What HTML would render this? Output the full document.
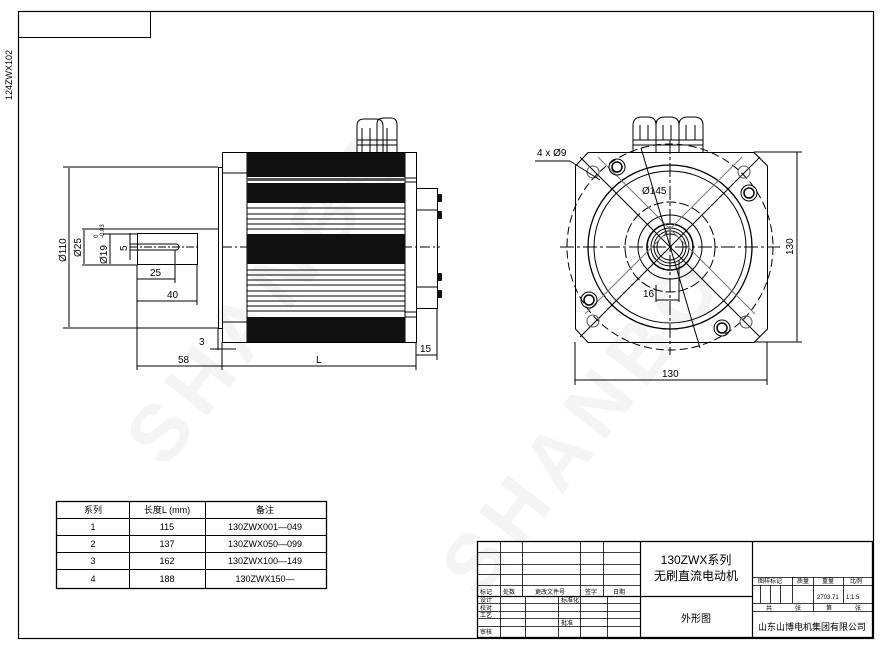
<!DOCTYPE html>
<html><head><meta charset="utf-8"><style>
body{margin:0;background:#fff}
svg{display:block}
text{font-family:"Liberation Sans","Noto Sans CJK SC",sans-serif;fill:#000}
</style></head><body>
<svg width="881" height="645" viewBox="0 0 881 645" xmlns="http://www.w3.org/2000/svg">
<g fill="none" stroke="#000" stroke-width="1">
<rect x="18.5" y="11.5" width="855" height="627" stroke-width="1.2"/>
<rect x="18.5" y="11.5" width="132" height="26"/>
</g>
<text x="12" y="100" font-size="9" transform="rotate(-90 12 100)" fill="#333">124ZWX102</text>

<g font-size="80" font-weight="bold" font-family="Liberation Sans">
<text x="0" y="0" transform="translate(165,470) rotate(-52)" style="fill:#f4f4f4" letter-spacing="10">SHANBO</text>
<text x="0" y="0" transform="translate(480,600) rotate(-52)" style="fill:#f4f4f4" letter-spacing="10">SHANBO</text>
</g>

<!-- LEFT VIEW -->
<g stroke="#000" stroke-width="1" fill="none">
<path d="M357 152 V126 Q357 119 364 119 H376 Q383 119 383 126 V152"/>
<path d="M377 152 V124 Q377 118 384 118 H391 Q397 118 397 125 V152"/>
<line x1="357" y1="140" x2="397" y2="140"/><line x1="357" y1="145" x2="397" y2="145"/>
<line x1="362" y1="128" x2="362" y2="152"/><line x1="370" y1="128" x2="370" y2="152"/><line x1="387" y1="128" x2="387" y2="152"/>
<rect x="222.5" y="152.5" width="194" height="190"/>
<line x1="247" y1="152" x2="247" y2="342"/>
<line x1="405" y1="152" x2="405" y2="342"/>
<line x1="222" y1="173" x2="247" y2="173"/><line x1="222" y1="322" x2="247" y2="322"/>
<line x1="405" y1="178" x2="416" y2="178"/><line x1="405" y1="182" x2="416" y2="182"/>
<line x1="405" y1="312" x2="416" y2="312"/><line x1="405" y1="317" x2="416" y2="317"/>
<rect x="416.5" y="188.5" width="21" height="120"/>
<line x1="416" y1="210" x2="437" y2="210"/><line x1="416" y1="287" x2="437" y2="287"/>
<rect x="218.5" y="167.5" width="4" height="161"/>
<rect x="137.5" y="233.5" width="60" height="31"/>
<line x1="82" y1="229" x2="218" y2="229"/>
<line x1="82" y1="265" x2="137" y2="265"/>
<path d="M130 244 H176 A3 3 0 0 1 176 250 H130"/>
<line x1="130" y1="247" x2="200" y2="247" stroke-dasharray="8 2 2 2"/>
<line x1="222" y1="247" x2="440" y2="247" stroke-dasharray="10 3 2 3"/>
<line x1="63" y1="167" x2="218" y2="167"/><line x1="63" y1="328" x2="218" y2="328"/>
<line x1="69" y1="168" x2="69" y2="327"/>
<line x1="84" y1="230" x2="84" y2="264"/>
<line x1="110" y1="234" x2="110" y2="264"/><line x1="103" y1="234" x2="137" y2="234"/>
<line x1="130" y1="233" x2="130" y2="260"/>
<line x1="137" y1="265" x2="137" y2="370"/>
<line x1="175" y1="250" x2="175" y2="283"/>
<line x1="197" y1="265" x2="197" y2="305"/>
<line x1="137" y1="279" x2="175" y2="279"/>
<line x1="137" y1="301" x2="197" y2="301"/>
<line x1="137" y1="366" x2="222" y2="366"/>
<line x1="222" y1="342" x2="222" y2="370"/>
<line x1="218" y1="328" x2="218" y2="350"/>
<line x1="210" y1="349" x2="236" y2="349"/>
<line x1="222" y1="366" x2="416" y2="366"/>
<line x1="416" y1="342" x2="416" y2="370"/>
<line x1="437" y1="308" x2="437" y2="360"/>
<line x1="416" y1="355" x2="437" y2="355"/>
</g>
<g fill="#111">
<rect x="247" y="153" width="158" height="24"/>
<rect x="247" y="183" width="158" height="20"/>
<rect x="247" y="234" width="158" height="30"/>
<rect x="247" y="317" width="158" height="25"/>
<rect x="247" y="178" width="158" height="3" fill="#555"/>
</g>
<g stroke="#000" stroke-width="1">
<line x1="247" y1="208" x2="405" y2="208"/><line x1="247" y1="214" x2="405" y2="214"/>
<line x1="247" y1="219" x2="405" y2="219"/><line x1="247" y1="224" x2="405" y2="224"/><line x1="247" y1="229" x2="405" y2="229"/>
<line x1="247" y1="270" x2="405" y2="270"/><line x1="247" y1="275" x2="405" y2="275"/><line x1="247" y1="280" x2="405" y2="280"/>
<line x1="247" y1="285" x2="405" y2="285"/><line x1="247" y1="291" x2="405" y2="291"/><line x1="247" y1="296" x2="405" y2="296"/>
<line x1="247" y1="301" x2="405" y2="301"/><line x1="247" y1="306" x2="405" y2="306"/><line x1="247" y1="311" x2="405" y2="311"/>
</g>
<g fill="#111">
<rect x="437" y="194" width="5" height="8" rx="1"/><rect x="437" y="211" width="5" height="8" rx="1"/>
<rect x="437" y="273" width="5" height="8" rx="1"/><rect x="437" y="290" width="5" height="8" rx="1"/>
</g>
<g font-size="10">
<text x="0" y="0" transform="translate(66,262) rotate(-90)">Ø110</text>
<text x="0" y="0" transform="translate(81,257) rotate(-90)">Ø25</text>
<text x="0" y="0" transform="translate(107,264) rotate(-90)">Ø19</text>
<text x="0" y="0" transform="translate(98,238) rotate(-90)" font-size="6">0</text>
<text x="0" y="0" transform="translate(104,238) rotate(-90)" font-size="6">-0.03</text>
<text x="0" y="0" transform="translate(127,251) rotate(-90)">5</text>
<text x="150" y="276">25</text>
<text x="167" y="298">40</text>
<text x="178" y="363">58</text>
<text x="199" y="345">3</text>
<text x="316" y="363">L</text>
<text x="420" y="352">15</text>
</g>

<!-- RIGHT VIEW -->
<g stroke="#000" stroke-width="1" fill="none">
<path d="M633 152 V125 Q633 117 642 117 H648 Q656 117 656 125 V152 M656 152 V125 Q656 117 665 117 H670 Q679 117 679 125 V152 M679 152 V125 Q679 117 688 117 H694 Q703 117 703 125 V152"/>
<line x1="633" y1="140" x2="703" y2="140"/><line x1="633" y1="145" x2="703" y2="145"/>
<line x1="640" y1="125" x2="640" y2="140"/><line x1="648" y1="125" x2="648" y2="140"/>
<line x1="663" y1="125" x2="663" y2="140"/><line x1="671" y1="125" x2="671" y2="140"/>
<line x1="686" y1="125" x2="686" y2="140"/><line x1="695" y1="125" x2="695" y2="140"/>
<path d="M588 152.5 H754 L767.5 166 V329 L754 342.5 H588 L575.5 329 V166 Z"/>
<circle cx="670" cy="247" r="103" stroke-dasharray="8 4"/>
<circle cx="670" cy="247" r="82" stroke-width="1.3"/>
<circle cx="670" cy="247" r="76"/>
<circle cx="670" cy="247" r="32"/>
<circle cx="670" cy="247" r="23" stroke-width="1.5"/>
<circle cx="670" cy="247" r="19"/>
<circle cx="670" cy="247" r="16"/>
<circle cx="670" cy="247" r="13"/>
<circle cx="670" cy="247" r="45" stroke-dasharray="10 3"/>
<line x1="560" y1="247" x2="780" y2="247" stroke-dasharray="14 3 3 3"/>
<line x1="670" y1="140" x2="670" y2="355" stroke-dasharray="14 3 3 3"/>
<line x1="580" y1="157" x2="760" y2="337"/><line x1="760" y1="157" x2="580" y2="337"/>
<line x1="598" y1="157" x2="755" y2="314" stroke="#777"/><line x1="742" y1="157" x2="585" y2="314" stroke="#777"/>
<circle cx="617" cy="167" r="8"/><circle cx="617" cy="167" r="5" stroke-width="1.5"/>
<circle cx="749" cy="193" r="8"/><circle cx="749" cy="193" r="5" stroke-width="1.5"/>
<circle cx="589" cy="300" r="8"/><circle cx="589" cy="300" r="5" stroke-width="1.5"/>
<circle cx="722" cy="328" r="8"/><circle cx="722" cy="328" r="5" stroke-width="1.5"/>
<circle cx="593" cy="172" r="6" stroke="#555"/><circle cx="744" cy="172" r="6" stroke="#555"/>
<circle cx="593" cy="321" r="6" stroke="#555"/><circle cx="746" cy="322" r="6" stroke="#555"/>
<line x1="641" y1="148" x2="700" y2="348"/>
<line x1="535" y1="161" x2="570" y2="161"/><line x1="570" y1="161" x2="600" y2="180"/>
<line x1="656" y1="285" x2="656" y2="302"/><line x1="679" y1="260" x2="679" y2="302"/>
<line x1="656" y1="300" x2="679" y2="300"/>
<line x1="575" y1="342" x2="575" y2="385"/><line x1="767" y1="342" x2="767" y2="385"/>
<line x1="575" y1="380" x2="767" y2="380"/>
<line x1="754" y1="152" x2="802" y2="152"/><line x1="754" y1="342" x2="802" y2="342"/>
<line x1="797" y1="152" x2="797" y2="342"/>
</g>
<g font-size="10">
<text x="537" y="156">4 x Ø9</text>
<text x="642" y="194">Ø145</text>
<text x="643" y="297">16</text>
<text x="662" y="377">130</text>
<text x="0" y="0" transform="translate(793,255) rotate(-90)">130</text>
</g>

<!-- TABLE -->
<g stroke="#000" fill="none">
<rect x="56.5" y="501.5" width="270" height="87" stroke-width="1.3"/>
<line x1="129.5" y1="501" x2="129.5" y2="588"/><line x1="205.5" y1="501" x2="205.5" y2="588"/>
<line x1="56" y1="518.5" x2="326" y2="518.5"/><line x1="56" y1="535.5" x2="326" y2="535.5"/>
<line x1="56" y1="552.5" x2="326" y2="552.5"/><line x1="56" y1="569.5" x2="326" y2="569.5"/>
</g>
<g font-size="9" text-anchor="middle">
<text x="93" y="513">系列</text><text x="167" y="513">长度L (mm)</text><text x="265" y="513">备注</text>
<text x="93" y="530">1</text><text x="167" y="530">115</text><text x="265" y="530">130ZWX001—049</text>
<text x="93" y="547">2</text><text x="167" y="547">137</text><text x="265" y="547">130ZWX050—099</text>
<text x="93" y="564">3</text><text x="167" y="564">162</text><text x="265" y="564">130ZWX100—149</text>
<text x="93" y="582">4</text><text x="167" y="582">188</text><text x="265" y="582">130ZWX150—</text>
</g>

<!-- TITLE BLOCK -->
<g stroke="#000" fill="none" stroke-width="0.8">
<rect x="477.5" y="541.5" width="395" height="96" stroke-width="1.3"/>
<line x1="640.5" y1="541" x2="640.5" y2="637" stroke-width="1.2"/>
<line x1="752.5" y1="541" x2="752.5" y2="637" stroke-width="1.2"/>
<line x1="477" y1="552.5" x2="640" y2="552.5"/><line x1="477" y1="564.5" x2="640" y2="564.5"/>
<line x1="477" y1="574.5" x2="640" y2="574.5"/><line x1="477" y1="585.5" x2="640" y2="585.5"/>
<line x1="477" y1="596.5" x2="752" y2="596.5" stroke-width="1.2"/>
<line x1="477" y1="603.5" x2="640" y2="603.5"/><line x1="477" y1="611.5" x2="640" y2="611.5"/>
<line x1="477" y1="618.5" x2="640" y2="618.5"/><line x1="477" y1="626.5" x2="640" y2="626.5"/>
<line x1="500.5" y1="541" x2="500.5" y2="637"/>
<line x1="522.5" y1="541" x2="522.5" y2="596"/><line x1="580.5" y1="541" x2="580.5" y2="596"/>
<line x1="603.5" y1="541" x2="603.5" y2="596"/>
<line x1="525.5" y1="596" x2="525.5" y2="637"/><line x1="558.5" y1="596" x2="558.5" y2="637"/>
<line x1="580.5" y1="596" x2="580.5" y2="637"/><line x1="607.5" y1="596" x2="607.5" y2="637"/>
<line x1="752" y1="577.5" x2="872" y2="577.5"/><line x1="752" y1="585.5" x2="872" y2="585.5"/>
<line x1="752" y1="603.5" x2="872" y2="603.5"/><line x1="752" y1="611.5" x2="872" y2="611.5"/>
<line x1="792.5" y1="577" x2="792.5" y2="603"/><line x1="813.5" y1="577" x2="813.5" y2="611"/>
<line x1="843.5" y1="577" x2="843.5" y2="603"/>
<line x1="760.5" y1="585" x2="760.5" y2="603"/><line x1="770.5" y1="585" x2="770.5" y2="603"/><line x1="780.5" y1="585" x2="780.5" y2="603"/>
</g>
<g font-size="6">
<text x="480" y="594">标记</text><text x="503" y="594">处数</text><text x="535" y="594">更改文件号</text><text x="585" y="594">签字</text><text x="613" y="594">日期</text>
<text x="480" y="602">设计</text><text x="561" y="602">标准化</text>
<text x="480" y="610">校对</text>
<text x="480" y="617">工艺</text><text x="561" y="625">批准</text>
<text x="480" y="634">审核</text>
<text x="758" y="583">图样标记</text><text x="797" y="583">质量</text><text x="822" y="583">重量</text><text x="850" y="583">比例</text>
<text x="817" y="599">2703.71</text><text x="846" y="599">1:1.5</text>
<text x="766" y="610">共</text><text x="795" y="610">张</text><text x="826" y="610">第</text><text x="855" y="610">张</text>
</g>
<g text-anchor="middle">
<text x="696" y="564" font-size="12">130ZWX系列</text>
<text x="696" y="580" font-size="12">无刷直流电动机</text>
<text x="696" y="622" font-size="10">外形图</text>
<text x="812" y="630" font-size="9">山东山博电机集团有限公司</text>
</g>
</svg>
</body></html>
